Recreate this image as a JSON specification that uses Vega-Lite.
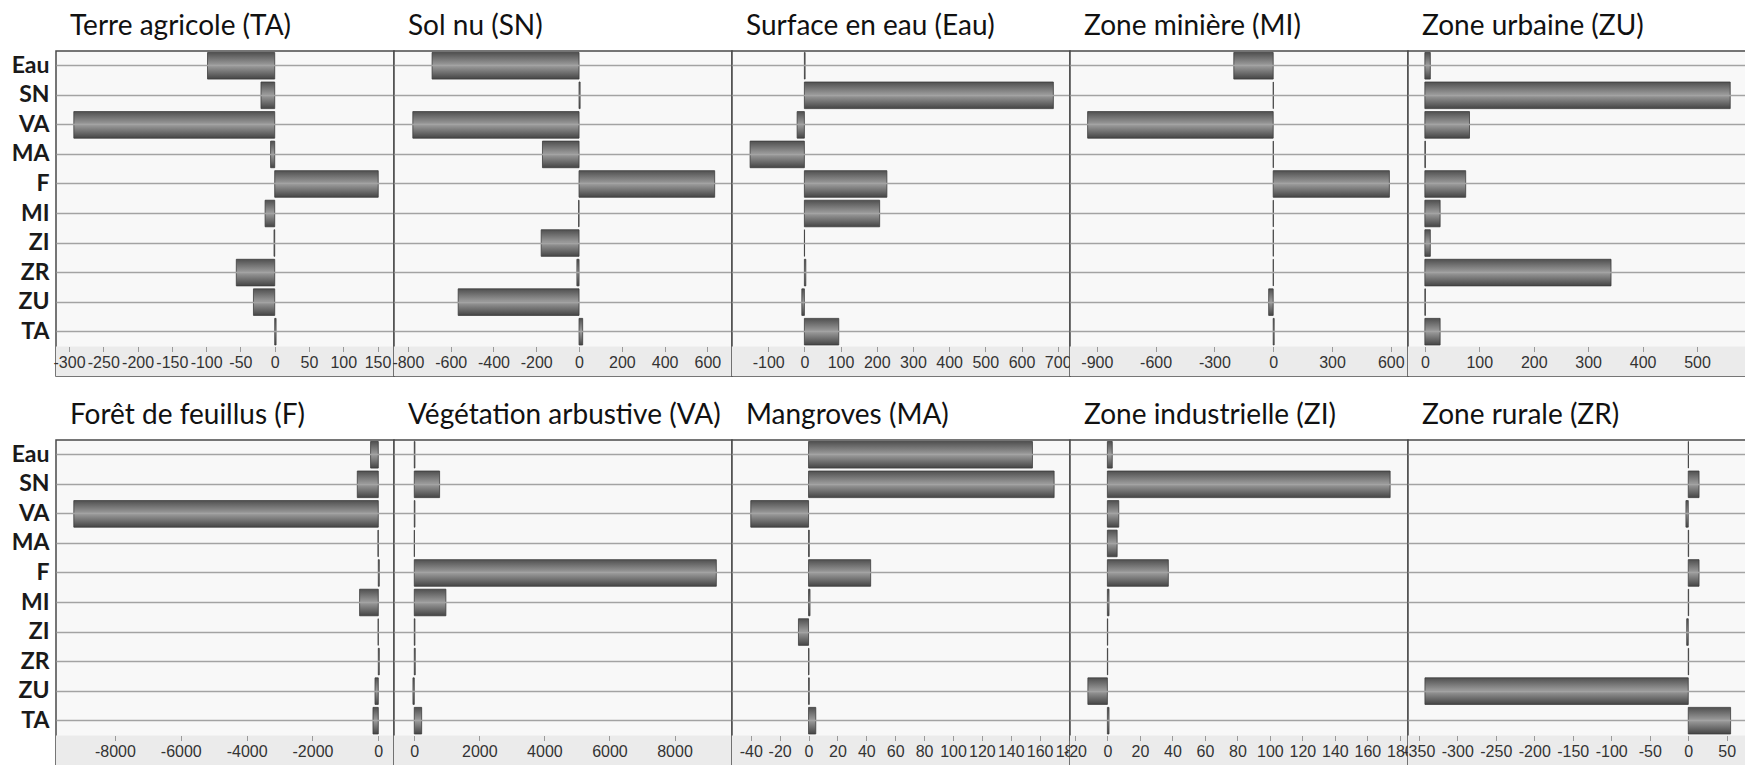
{
  "$schema": "https://vega.github.io/schema/vega-lite/v6.json",
  "autosize": {"type": "pad"},
  "padding": {"left": 10, "top": 12, "right": 0, "bottom": 0},
  "background": "white",
  "config": {
    "locale": {"number": {"decimal": ".", "thousands": "", "grouping": [3], "currency": ["", ""], "minus": "-"}},
    "view": {"fill": "#f8f8f8", "stroke": "#4a4a4a", "strokeWidth": 1.5},
    "title": {"font": "Lato", "fontSize": 28, "fontWeight": "normal", "color": "#111111", "anchor": "start", "frame": "group", "dx": 14, "offset": 10},
    "axisX": {"domain": false, "grid": false, "tickSize": 5, "tickColor": "#9a9a9a", "tickWidth": 1, "labelFont": "Liberation Sans", "labelFontSize": 16, "labelColor": "#333333", "labelPadding": 3, "offset": -29.5, "title": null, "format": "d", "labelOverlap": false, "labelBound": false, "labelFlush": false},
    "axisY": {"domain": false, "ticks": false, "grid": true, "gridColor": "#a3a3a3", "gridWidth": 1.5, "title": null, "labelFont": "Lato", "labelFontSize": 23, "labelFontWeight": "bold", "labelColor": "#1a1a1a", "labelPadding": 7}
  },
  "datasets": {
    "d": [
      {"panel": "TA", "cat": "Eau", "value": -98}, {"panel": "TA", "cat": "SN", "value": -20}, {"panel": "TA", "cat": "VA", "value": -293}, {"panel": "TA", "cat": "MA", "value": -6}, {"panel": "TA", "cat": "F", "value": 151}, {"panel": "TA", "cat": "MI", "value": -14}, {"panel": "TA", "cat": "ZI", "value": -1}, {"panel": "TA", "cat": "ZR", "value": -56}, {"panel": "TA", "cat": "ZU", "value": -31}, {"panel": "TA", "cat": "TA", "value": 2},
      {"panel": "SN", "cat": "Eau", "value": -687}, {"panel": "SN", "cat": "SN", "value": 5}, {"panel": "SN", "cat": "VA", "value": -777}, {"panel": "SN", "cat": "MA", "value": -171}, {"panel": "SN", "cat": "F", "value": 634}, {"panel": "SN", "cat": "MI", "value": -2}, {"panel": "SN", "cat": "ZI", "value": -177}, {"panel": "SN", "cat": "ZR", "value": -10}, {"panel": "SN", "cat": "ZU", "value": -565}, {"panel": "SN", "cat": "TA", "value": 17},
      {"panel": "Eau", "cat": "Eau", "value": 2}, {"panel": "Eau", "cat": "SN", "value": 688}, {"panel": "Eau", "cat": "VA", "value": -20}, {"panel": "Eau", "cat": "MA", "value": -150}, {"panel": "Eau", "cat": "F", "value": 228}, {"panel": "Eau", "cat": "MI", "value": 208}, {"panel": "Eau", "cat": "ZI", "value": 0.5}, {"panel": "Eau", "cat": "ZR", "value": 4}, {"panel": "Eau", "cat": "ZU", "value": -7}, {"panel": "Eau", "cat": "TA", "value": 95},
      {"panel": "MI", "cat": "Eau", "value": -201}, {"panel": "MI", "cat": "SN", "value": 1}, {"panel": "MI", "cat": "VA", "value": -947}, {"panel": "MI", "cat": "MA", "value": 1}, {"panel": "MI", "cat": "F", "value": 593}, {"panel": "MI", "cat": "MI", "value": 1}, {"panel": "MI", "cat": "ZI", "value": 1}, {"panel": "MI", "cat": "ZR", "value": 1}, {"panel": "MI", "cat": "ZU", "value": -23}, {"panel": "MI", "cat": "TA", "value": 5},
      {"panel": "ZU", "cat": "Eau", "value": 10}, {"panel": "ZU", "cat": "SN", "value": 561}, {"panel": "ZU", "cat": "VA", "value": 82}, {"panel": "ZU", "cat": "MA", "value": 1}, {"panel": "ZU", "cat": "F", "value": 75}, {"panel": "ZU", "cat": "MI", "value": 28}, {"panel": "ZU", "cat": "ZI", "value": 10}, {"panel": "ZU", "cat": "ZR", "value": 342}, {"panel": "ZU", "cat": "ZU", "value": 1}, {"panel": "ZU", "cat": "TA", "value": 28},
      {"panel": "F", "cat": "Eau", "value": -234}, {"panel": "F", "cat": "SN", "value": -638}, {"panel": "F", "cat": "VA", "value": -9249}, {"panel": "F", "cat": "MA", "value": -10}, {"panel": "F", "cat": "F", "value": 30}, {"panel": "F", "cat": "MI", "value": -568}, {"panel": "F", "cat": "ZI", "value": -5}, {"panel": "F", "cat": "ZR", "value": 30}, {"panel": "F", "cat": "ZU", "value": -100}, {"panel": "F", "cat": "TA", "value": -161},
      {"panel": "VA", "cat": "Eau", "value": 20}, {"panel": "VA", "cat": "SN", "value": 779}, {"panel": "VA", "cat": "VA", "value": 20}, {"panel": "VA", "cat": "MA", "value": 5}, {"panel": "VA", "cat": "F", "value": 9285}, {"panel": "VA", "cat": "MI", "value": 972}, {"panel": "VA", "cat": "ZI", "value": 20}, {"panel": "VA", "cat": "ZR", "value": 30}, {"panel": "VA", "cat": "ZU", "value": -40}, {"panel": "VA", "cat": "TA", "value": 227},
      {"panel": "MA", "cat": "Eau", "value": 155}, {"panel": "MA", "cat": "SN", "value": 170}, {"panel": "MA", "cat": "VA", "value": -40}, {"panel": "MA", "cat": "MA", "value": 0.5}, {"panel": "MA", "cat": "F", "value": 43}, {"panel": "MA", "cat": "MI", "value": 1}, {"panel": "MA", "cat": "ZI", "value": -7}, {"panel": "MA", "cat": "ZR", "value": 0.3}, {"panel": "MA", "cat": "ZU", "value": 0.5}, {"panel": "MA", "cat": "TA", "value": 5},
      {"panel": "ZI", "cat": "Eau", "value": 3}, {"panel": "ZI", "cat": "SN", "value": 174}, {"panel": "ZI", "cat": "VA", "value": 7}, {"panel": "ZI", "cat": "MA", "value": 6}, {"panel": "ZI", "cat": "F", "value": 37.5}, {"panel": "ZI", "cat": "MI", "value": 1}, {"panel": "ZI", "cat": "ZI", "value": 0.2}, {"panel": "ZI", "cat": "ZR", "value": 0.2}, {"panel": "ZI", "cat": "ZU", "value": -12}, {"panel": "ZI", "cat": "TA", "value": 1},
      {"panel": "ZR", "cat": "Eau", "value": 0.3}, {"panel": "ZR", "cat": "SN", "value": 14}, {"panel": "ZR", "cat": "VA", "value": -3}, {"panel": "ZR", "cat": "MA", "value": 0.5}, {"panel": "ZR", "cat": "F", "value": 14}, {"panel": "ZR", "cat": "MI", "value": 0.5}, {"panel": "ZR", "cat": "ZI", "value": -2}, {"panel": "ZR", "cat": "ZR", "value": 0.5}, {"panel": "ZR", "cat": "ZU", "value": -342}, {"panel": "ZR", "cat": "TA", "value": 55}
    ]
  },
  "vconcat": [
    {
      "hconcat": [
        {
          "title": "Terre agricole (TA)", "width": 338, "height": 325,
          "encoding": {"y": {"field": "cat", "type": "nominal", "scale": {"domain": ["Eau", "SN", "VA", "MA", "F", "MI", "ZI", "ZR", "ZU", "TA", "_"], "paddingInner": 0, "paddingOuter": 0}, "axis": {"values": ["Eau", "SN", "VA", "MA", "F", "MI", "ZI", "ZR", "ZU", "TA"]}}},
          "layer": [
            {"data": {"values": [{"cat": "_"}]}, "mark": {"type": "rect", "fill": "#ebebeb"}, "encoding": {"x": {"datum": -319, "type": "quantitative", "scale": {"domain": [-319, 174], "nice": false, "zero": false}, "axis": {"zindex": 1, "values": [-300, -250, -200, -150, -100, -50, 0, 50, 100, 150]}}, "x2": {"datum": 174}}},
            {"data": {"name": "d"}, "transform": [{"filter": "datum.panel === 'TA'"}], "mark": {"type": "bar", "height": {"band": 0.9}, "stroke": "#3c3c3c", "strokeWidth": 0.8, "fill": {"gradient": "linear", "x1": 0, "y1": 0, "x2": 0, "y2": 1, "stops": [{"offset": 0, "color": "#505050"}, {"offset": 0.45, "color": "#979797"}, {"offset": 0.55, "color": "#939393"}, {"offset": 1, "color": "#454545"}]}}, "encoding": {"x": {"field": "value", "type": "quantitative", "scale": {"domain": [-319, 174], "nice": false, "zero": false}, "axis": {"zindex": 1, "values": [-300, -250, -200, -150, -100, -50, 0, 50, 100, 150]}}}}
          ]
        },
        {
          "title": "Sol nu (SN)", "width": 338, "height": 325,
          "encoding": {"y": {"field": "cat", "type": "nominal", "scale": {"domain": ["Eau", "SN", "VA", "MA", "F", "MI", "ZI", "ZR", "ZU", "TA", "_"], "paddingInner": 0, "paddingOuter": 0}, "axis": {"values": ["Eau", "SN", "VA", "MA", "F", "MI", "ZI", "ZR", "ZU", "TA"], "labels": false}}},
          "layer": [
            {"data": {"values": [{"cat": "_"}]}, "mark": {"type": "rect", "fill": "#ebebeb"}, "encoding": {"x": {"datum": -865, "type": "quantitative", "scale": {"domain": [-865, 715], "nice": false, "zero": false}, "axis": {"zindex": 1, "values": [-800, -600, -400, -200, 0, 200, 400, 600]}}, "x2": {"datum": 715}}},
            {"data": {"name": "d"}, "transform": [{"filter": "datum.panel === 'SN'"}], "mark": {"type": "bar", "height": {"band": 0.9}, "stroke": "#3c3c3c", "strokeWidth": 0.8, "fill": {"gradient": "linear", "x1": 0, "y1": 0, "x2": 0, "y2": 1, "stops": [{"offset": 0, "color": "#505050"}, {"offset": 0.45, "color": "#979797"}, {"offset": 0.55, "color": "#939393"}, {"offset": 1, "color": "#454545"}]}}, "encoding": {"x": {"field": "value", "type": "quantitative", "scale": {"domain": [-865, 715], "nice": false, "zero": false}, "axis": {"zindex": 1, "values": [-800, -600, -400, -200, 0, 200, 400, 600]}}}}
          ]
        },
        {
          "title": "Surface en eau (Eau)", "width": 338, "height": 325,
          "encoding": {"y": {"field": "cat", "type": "nominal", "scale": {"domain": ["Eau", "SN", "VA", "MA", "F", "MI", "ZI", "ZR", "ZU", "TA", "_"], "paddingInner": 0, "paddingOuter": 0}, "axis": {"values": ["Eau", "SN", "VA", "MA", "F", "MI", "ZI", "ZR", "ZU", "TA"], "labels": false}}},
          "layer": [
            {"data": {"values": [{"cat": "_"}]}, "mark": {"type": "rect", "fill": "#ebebeb"}, "encoding": {"x": {"datum": -200, "type": "quantitative", "scale": {"domain": [-200, 734], "nice": false, "zero": false}, "axis": {"zindex": 1, "values": [-100, 0, 100, 200, 300, 400, 500, 600, 700]}}, "x2": {"datum": 734}}},
            {"data": {"name": "d"}, "transform": [{"filter": "datum.panel === 'Eau'"}], "mark": {"type": "bar", "height": {"band": 0.9}, "stroke": "#3c3c3c", "strokeWidth": 0.8, "fill": {"gradient": "linear", "x1": 0, "y1": 0, "x2": 0, "y2": 1, "stops": [{"offset": 0, "color": "#505050"}, {"offset": 0.45, "color": "#979797"}, {"offset": 0.55, "color": "#939393"}, {"offset": 1, "color": "#454545"}]}}, "encoding": {"x": {"field": "value", "type": "quantitative", "scale": {"domain": [-200, 734], "nice": false, "zero": false}, "axis": {"zindex": 1, "values": [-100, 0, 100, 200, 300, 400, 500, 600, 700]}}}}
          ]
        },
        {
          "title": "Zone minière (MI)", "width": 338, "height": 325,
          "encoding": {"y": {"field": "cat", "type": "nominal", "scale": {"domain": ["Eau", "SN", "VA", "MA", "F", "MI", "ZI", "ZR", "ZU", "TA", "_"], "paddingInner": 0, "paddingOuter": 0}, "axis": {"values": ["Eau", "SN", "VA", "MA", "F", "MI", "ZI", "ZR", "ZU", "TA"], "labels": false}}},
          "layer": [
            {"data": {"values": [{"cat": "_"}]}, "mark": {"type": "rect", "fill": "#ebebeb"}, "encoding": {"x": {"datum": -1037, "type": "quantitative", "scale": {"domain": [-1037, 688], "nice": false, "zero": false}, "axis": {"zindex": 1, "values": [-900, -600, -300, 0, 300, 600]}}, "x2": {"datum": 688}}},
            {"data": {"name": "d"}, "transform": [{"filter": "datum.panel === 'MI'"}], "mark": {"type": "bar", "height": {"band": 0.9}, "stroke": "#3c3c3c", "strokeWidth": 0.8, "fill": {"gradient": "linear", "x1": 0, "y1": 0, "x2": 0, "y2": 1, "stops": [{"offset": 0, "color": "#505050"}, {"offset": 0.45, "color": "#979797"}, {"offset": 0.55, "color": "#939393"}, {"offset": 1, "color": "#454545"}]}}, "encoding": {"x": {"field": "value", "type": "quantitative", "scale": {"domain": [-1037, 688], "nice": false, "zero": false}, "axis": {"zindex": 1, "values": [-900, -600, -300, 0, 300, 600]}}}}
          ]
        },
        {
          "title": "Zone urbaine (ZU)", "width": 338, "height": 325,
          "encoding": {"y": {"field": "cat", "type": "nominal", "scale": {"domain": ["Eau", "SN", "VA", "MA", "F", "MI", "ZI", "ZR", "ZU", "TA", "_"], "paddingInner": 0, "paddingOuter": 0}, "axis": {"values": ["Eau", "SN", "VA", "MA", "F", "MI", "ZI", "ZR", "ZU", "TA"], "labels": false}}},
          "layer": [
            {"data": {"values": [{"cat": "_"}]}, "mark": {"type": "rect", "fill": "#ebebeb"}, "encoding": {"x": {"datum": -31, "type": "quantitative", "scale": {"domain": [-31, 590], "nice": false, "zero": false}, "axis": {"zindex": 1, "values": [0, 100, 200, 300, 400, 500]}}, "x2": {"datum": 590}}},
            {"data": {"name": "d"}, "transform": [{"filter": "datum.panel === 'ZU'"}], "mark": {"type": "bar", "height": {"band": 0.9}, "stroke": "#3c3c3c", "strokeWidth": 0.8, "fill": {"gradient": "linear", "x1": 0, "y1": 0, "x2": 0, "y2": 1, "stops": [{"offset": 0, "color": "#505050"}, {"offset": 0.45, "color": "#979797"}, {"offset": 0.55, "color": "#939393"}, {"offset": 1, "color": "#454545"}]}}, "encoding": {"x": {"field": "value", "type": "quantitative", "scale": {"domain": [-31, 590], "nice": false, "zero": false}, "axis": {"zindex": 1, "values": [0, 100, 200, 300, 400, 500]}}}}
          ]
        }
      ],
      "spacing": 0, "bounds": "flush"
    },
    {
      "hconcat": [
        {
          "title": "Forêt de feuillus (F)", "width": 338, "height": 325,
          "encoding": {"y": {"field": "cat", "type": "nominal", "scale": {"domain": ["Eau", "SN", "VA", "MA", "F", "MI", "ZI", "ZR", "ZU", "TA", "_"], "paddingInner": 0, "paddingOuter": 0}, "axis": {"values": ["Eau", "SN", "VA", "MA", "F", "MI", "ZI", "ZR", "ZU", "TA"]}}},
          "layer": [
            {"data": {"values": [{"cat": "_"}]}, "mark": {"type": "rect", "fill": "#ebebeb"}, "encoding": {"x": {"datum": -9790, "type": "quantitative", "scale": {"domain": [-9790, 477], "nice": false, "zero": false}, "axis": {"zindex": 1, "values": [-8000, -6000, -4000, -2000, 0]}}, "x2": {"datum": 477}}},
            {"data": {"name": "d"}, "transform": [{"filter": "datum.panel === 'F'"}], "mark": {"type": "bar", "height": {"band": 0.9}, "stroke": "#3c3c3c", "strokeWidth": 0.8, "fill": {"gradient": "linear", "x1": 0, "y1": 0, "x2": 0, "y2": 1, "stops": [{"offset": 0, "color": "#505050"}, {"offset": 0.45, "color": "#979797"}, {"offset": 0.55, "color": "#939393"}, {"offset": 1, "color": "#454545"}]}}, "encoding": {"x": {"field": "value", "type": "quantitative", "scale": {"domain": [-9790, 477], "nice": false, "zero": false}, "axis": {"zindex": 1, "values": [-8000, -6000, -4000, -2000, 0]}}}}
          ]
        },
        {
          "title": "Végétation arbustive (VA)", "width": 338, "height": 325,
          "encoding": {"y": {"field": "cat", "type": "nominal", "scale": {"domain": ["Eau", "SN", "VA", "MA", "F", "MI", "ZI", "ZR", "ZU", "TA", "_"], "paddingInner": 0, "paddingOuter": 0}, "axis": {"values": ["Eau", "SN", "VA", "MA", "F", "MI", "ZI", "ZR", "ZU", "TA"], "labels": false}}},
          "layer": [
            {"data": {"values": [{"cat": "_"}]}, "mark": {"type": "rect", "fill": "#ebebeb"}, "encoding": {"x": {"datum": -623, "type": "quantitative", "scale": {"domain": [-623, 9767], "nice": false, "zero": false}, "axis": {"zindex": 1, "values": [0, 2000, 4000, 6000, 8000]}}, "x2": {"datum": 9767}}},
            {"data": {"name": "d"}, "transform": [{"filter": "datum.panel === 'VA'"}], "mark": {"type": "bar", "height": {"band": 0.9}, "stroke": "#3c3c3c", "strokeWidth": 0.8, "fill": {"gradient": "linear", "x1": 0, "y1": 0, "x2": 0, "y2": 1, "stops": [{"offset": 0, "color": "#505050"}, {"offset": 0.45, "color": "#979797"}, {"offset": 0.55, "color": "#939393"}, {"offset": 1, "color": "#454545"}]}}, "encoding": {"x": {"field": "value", "type": "quantitative", "scale": {"domain": [-623, 9767], "nice": false, "zero": false}, "axis": {"zindex": 1, "values": [0, 2000, 4000, 6000, 8000]}}}}
          ]
        },
        {
          "title": "Mangroves (MA)", "width": 338, "height": 325,
          "encoding": {"y": {"field": "cat", "type": "nominal", "scale": {"domain": ["Eau", "SN", "VA", "MA", "F", "MI", "ZI", "ZR", "ZU", "TA", "_"], "paddingInner": 0, "paddingOuter": 0}, "axis": {"values": ["Eau", "SN", "VA", "MA", "F", "MI", "ZI", "ZR", "ZU", "TA"], "labels": false}}},
          "layer": [
            {"data": {"values": [{"cat": "_"}]}, "mark": {"type": "rect", "fill": "#ebebeb"}, "encoding": {"x": {"datum": -53, "type": "quantitative", "scale": {"domain": [-53, 181], "nice": false, "zero": false}, "axis": {"zindex": 1, "values": [-40, -20, 0, 20, 40, 60, 80, 100, 120, 140, 160, 180]}}, "x2": {"datum": 181}}},
            {"data": {"name": "d"}, "transform": [{"filter": "datum.panel === 'MA'"}], "mark": {"type": "bar", "height": {"band": 0.9}, "stroke": "#3c3c3c", "strokeWidth": 0.8, "fill": {"gradient": "linear", "x1": 0, "y1": 0, "x2": 0, "y2": 1, "stops": [{"offset": 0, "color": "#505050"}, {"offset": 0.45, "color": "#979797"}, {"offset": 0.55, "color": "#939393"}, {"offset": 1, "color": "#454545"}]}}, "encoding": {"x": {"field": "value", "type": "quantitative", "scale": {"domain": [-53, 181], "nice": false, "zero": false}, "axis": {"zindex": 1, "values": [-40, -20, 0, 20, 40, 60, 80, 100, 120, 140, 160, 180]}}}}
          ]
        },
        {
          "title": "Zone industrielle (ZI)", "width": 338, "height": 325,
          "encoding": {"y": {"field": "cat", "type": "nominal", "scale": {"domain": ["Eau", "SN", "VA", "MA", "F", "MI", "ZI", "ZR", "ZU", "TA", "_"], "paddingInner": 0, "paddingOuter": 0}, "axis": {"values": ["Eau", "SN", "VA", "MA", "F", "MI", "ZI", "ZR", "ZU", "TA"], "labels": false}}},
          "layer": [
            {"data": {"values": [{"cat": "_"}]}, "mark": {"type": "rect", "fill": "#ebebeb"}, "encoding": {"x": {"datum": -23, "type": "quantitative", "scale": {"domain": [-23, 185], "nice": false, "zero": false}, "axis": {"zindex": 1, "values": [-20, 0, 20, 40, 60, 80, 100, 120, 140, 160, 180]}}, "x2": {"datum": 185}}},
            {"data": {"name": "d"}, "transform": [{"filter": "datum.panel === 'ZI'"}], "mark": {"type": "bar", "height": {"band": 0.9}, "stroke": "#3c3c3c", "strokeWidth": 0.8, "fill": {"gradient": "linear", "x1": 0, "y1": 0, "x2": 0, "y2": 1, "stops": [{"offset": 0, "color": "#505050"}, {"offset": 0.45, "color": "#979797"}, {"offset": 0.55, "color": "#939393"}, {"offset": 1, "color": "#454545"}]}}, "encoding": {"x": {"field": "value", "type": "quantitative", "scale": {"domain": [-23, 185], "nice": false, "zero": false}, "axis": {"zindex": 1, "values": [-20, 0, 20, 40, 60, 80, 100, 120, 140, 160, 180]}}}}
          ]
        },
        {
          "title": "Zone rurale (ZR)", "width": 338, "height": 325,
          "encoding": {"y": {"field": "cat", "type": "nominal", "scale": {"domain": ["Eau", "SN", "VA", "MA", "F", "MI", "ZI", "ZR", "ZU", "TA", "_"], "paddingInner": 0, "paddingOuter": 0}, "axis": {"values": ["Eau", "SN", "VA", "MA", "F", "MI", "ZI", "ZR", "ZU", "TA"], "labels": false}}},
          "layer": [
            {"data": {"values": [{"cat": "_"}]}, "mark": {"type": "rect", "fill": "#ebebeb"}, "encoding": {"x": {"datum": -364, "type": "quantitative", "scale": {"domain": [-364, 75], "nice": false, "zero": false}, "axis": {"zindex": 1, "values": [-350, -300, -250, -200, -150, -100, -50, 0, 50]}}, "x2": {"datum": 75}}},
            {"data": {"name": "d"}, "transform": [{"filter": "datum.panel === 'ZR'"}], "mark": {"type": "bar", "height": {"band": 0.9}, "stroke": "#3c3c3c", "strokeWidth": 0.8, "fill": {"gradient": "linear", "x1": 0, "y1": 0, "x2": 0, "y2": 1, "stops": [{"offset": 0, "color": "#505050"}, {"offset": 0.45, "color": "#979797"}, {"offset": 0.55, "color": "#939393"}, {"offset": 1, "color": "#454545"}]}}, "encoding": {"x": {"field": "value", "type": "quantitative", "scale": {"domain": [-364, 75], "nice": false, "zero": false}, "axis": {"zindex": 1, "values": [-350, -300, -250, -200, -150, -100, -50, 0, 50]}}}}
          ]
        }
      ],
      "spacing": 0, "bounds": "flush"
    }
  ],
  "spacing": 24
}
